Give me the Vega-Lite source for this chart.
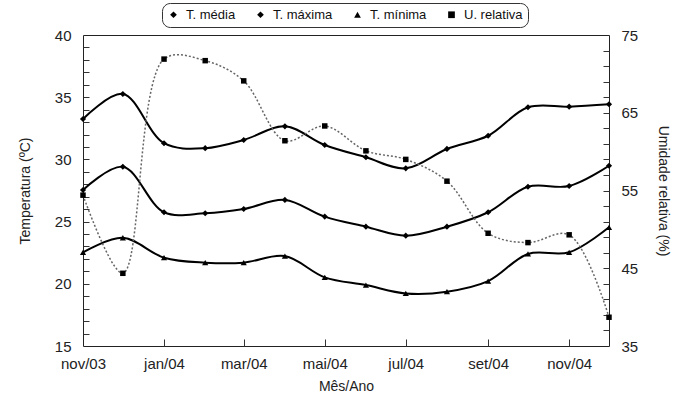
{
  "$schema": "https://vega.github.io/schema/vega-lite/v6.json",
  "width": 526,
  "height": 311,
  "autosize": "none",
  "padding": {"left": 83, "top": 35, "right": 67, "bottom": 55},
  "background": "white",
  "datasets": {
    "temp": [
      {"mes": "2003-11-01", "serie": "T. máxima", "valor": 33.25},
      {"mes": "2003-12-01", "serie": "T. máxima", "valor": 35.26},
      {"mes": "2004-01-01", "serie": "T. máxima", "valor": 31.3},
      {"mes": "2004-02-01", "serie": "T. máxima", "valor": 30.9},
      {"mes": "2004-03-01", "serie": "T. máxima", "valor": 31.56},
      {"mes": "2004-04-01", "serie": "T. máxima", "valor": 32.66},
      {"mes": "2004-05-01", "serie": "T. máxima", "valor": 31.16},
      {"mes": "2004-06-01", "serie": "T. máxima", "valor": 30.17},
      {"mes": "2004-07-01", "serie": "T. máxima", "valor": 29.28},
      {"mes": "2004-08-01", "serie": "T. máxima", "valor": 30.84},
      {"mes": "2004-09-01", "serie": "T. máxima", "valor": 31.9},
      {"mes": "2004-10-01", "serie": "T. máxima", "valor": 34.19},
      {"mes": "2004-11-01", "serie": "T. máxima", "valor": 34.24},
      {"mes": "2004-12-01", "serie": "T. máxima", "valor": 34.43},
      {"mes": "2003-11-01", "serie": "T. média", "valor": 27.54},
      {"mes": "2003-12-01", "serie": "T. média", "valor": 29.41},
      {"mes": "2004-01-01", "serie": "T. média", "valor": 25.75},
      {"mes": "2004-02-01", "serie": "T. média", "valor": 25.67},
      {"mes": "2004-03-01", "serie": "T. média", "valor": 26.01},
      {"mes": "2004-04-01", "serie": "T. média", "valor": 26.74},
      {"mes": "2004-05-01", "serie": "T. média", "valor": 25.4},
      {"mes": "2004-06-01", "serie": "T. média", "valor": 24.59},
      {"mes": "2004-07-01", "serie": "T. média", "valor": 23.87},
      {"mes": "2004-08-01", "serie": "T. média", "valor": 24.59},
      {"mes": "2004-09-01", "serie": "T. média", "valor": 25.75},
      {"mes": "2004-10-01", "serie": "T. média", "valor": 27.8},
      {"mes": "2004-11-01", "serie": "T. média", "valor": 27.86},
      {"mes": "2004-12-01", "serie": "T. média", "valor": 29.49},
      {"mes": "2003-11-01", "serie": "T. mínima", "valor": 22.53},
      {"mes": "2003-12-01", "serie": "T. mínima", "valor": 23.7},
      {"mes": "2004-01-01", "serie": "T. mínima", "valor": 22.1},
      {"mes": "2004-02-01", "serie": "T. mínima", "valor": 21.7},
      {"mes": "2004-03-01", "serie": "T. mínima", "valor": 21.7},
      {"mes": "2004-04-01", "serie": "T. mínima", "valor": 22.23},
      {"mes": "2004-05-01", "serie": "T. mínima", "valor": 20.52},
      {"mes": "2004-06-01", "serie": "T. mínima", "valor": 19.9},
      {"mes": "2004-07-01", "serie": "T. mínima", "valor": 19.23},
      {"mes": "2004-08-01", "serie": "T. mínima", "valor": 19.37},
      {"mes": "2004-09-01", "serie": "T. mínima", "valor": 20.22},
      {"mes": "2004-10-01", "serie": "T. mínima", "valor": 22.4},
      {"mes": "2004-11-01", "serie": "T. mínima", "valor": 22.53},
      {"mes": "2004-12-01", "serie": "T. mínima", "valor": 24.54}
    ],
    "umid": [
      {"mes": "2003-11-01", "serie": "U. relativa", "valor": 54.4},
      {"mes": "2003-12-01", "serie": "U. relativa", "valor": 44.35},
      {"mes": "2004-01-01", "serie": "U. relativa", "valor": 71.9},
      {"mes": "2004-02-01", "serie": "U. relativa", "valor": 71.7},
      {"mes": "2004-03-01", "serie": "U. relativa", "valor": 69.1},
      {"mes": "2004-04-01", "serie": "U. relativa", "valor": 61.4},
      {"mes": "2004-05-01", "serie": "U. relativa", "valor": 63.3},
      {"mes": "2004-06-01", "serie": "U. relativa", "valor": 60.1},
      {"mes": "2004-07-01", "serie": "U. relativa", "valor": 59.0},
      {"mes": "2004-08-01", "serie": "U. relativa", "valor": 56.2},
      {"mes": "2004-09-01", "serie": "U. relativa", "valor": 49.5},
      {"mes": "2004-10-01", "serie": "U. relativa", "valor": 48.3},
      {"mes": "2004-11-01", "serie": "U. relativa", "valor": 49.3},
      {"mes": "2004-12-01", "serie": "U. relativa", "valor": 38.7}
    ]
  },
  "config": {
    "view": {"stroke": "#222", "strokeWidth": 1},
    "axis": {
      "grid": false,
      "domain": false,
      "labelFont": "Liberation Sans",
      "titleFont": "Liberation Sans",
      "labelFontSize": 15,
      "titleFontSize": 14,
      "titleFontWeight": "normal",
      "labelColor": "#222",
      "titleColor": "#222",
      "tickColor": "#333",
      "labelFlush": false,
      "labelOverlap": false
    }
  },
  "layer": [
    {
      "data": {"name": "temp"},
      "layer": [
        {
          "mark": {"type": "line", "interpolate": "catmull-rom", "color": "black", "strokeWidth": 2},
          "encoding": {
            "x": {
              "field": "mes", "type": "temporal",
              "scale": {"type": "utc", "nice": false, "domain": [{"year": 2003, "month": 11, "date": 1, "utc": true}, {"year": 2004, "month": 12, "date": 1, "utc": true}]},
              "axis": {
                "orient": "bottom", "title": "Mês/Ano", "ticks": false, "labelPadding": 10, "titlePadding": 8,
                "values": [
                  {"year": 2003, "month": 11, "date": 1, "utc": true},
                  {"year": 2004, "month": 1, "date": 1, "utc": true},
                  {"year": 2004, "month": 3, "date": 1, "utc": true},
                  {"year": 2004, "month": 5, "date": 1, "utc": true},
                  {"year": 2004, "month": 7, "date": 1, "utc": true},
                  {"year": 2004, "month": 9, "date": 1, "utc": true},
                  {"year": 2004, "month": 11, "date": 1, "utc": true}
                ],
                "labelExpr": "['jan','fev','mar','abr','mai','jun','jul','ago','set','out','nov','dez'][utcmonth(datum.value)] + '/' + utcFormat(datum.value, '%y')"
              }
            },
            "y": {
              "field": "valor", "type": "quantitative",
              "scale": {"domain": [15, 40], "nice": false, "zero": false},
              "axis": {"orient": "left", "title": "Temperatura (ºC)", "values": [15, 20, 25, 30, 35, 40], "ticks": false, "labelPadding": 12, "titlePadding": 22}
            },
            "detail": {"field": "serie", "type": "nominal"}
          }
        },
        {
          "mark": {"type": "point", "filled": true, "color": "black", "opacity": 1, "size": 38},
          "encoding": {
            "x": {
              "field": "mes", "type": "temporal",
              "scale": {"type": "utc", "nice": false, "domain": [{"year": 2003, "month": 11, "date": 1, "utc": true}, {"year": 2004, "month": 12, "date": 1, "utc": true}]},
              "axis": {
                "orient": "bottom", "title": null, "labels": false, "tickSize": -7,
                "values": [
                  {"year": 2004, "month": 1, "date": 1, "utc": true},
                  {"year": 2004, "month": 3, "date": 1, "utc": true},
                  {"year": 2004, "month": 5, "date": 1, "utc": true},
                  {"year": 2004, "month": 7, "date": 1, "utc": true},
                  {"year": 2004, "month": 9, "date": 1, "utc": true},
                  {"year": 2004, "month": 11, "date": 1, "utc": true}
                ]
              }
            },
            "y": {
              "field": "valor", "type": "quantitative",
              "scale": {"domain": [15, 40], "nice": false, "zero": false},
              "axis": {"orient": "left", "title": null, "labels": false, "tickSize": -6,
                "values": [16, 17, 18, 19, 20, 21, 22, 23, 24, 25, 26, 27, 28, 29, 30, 31, 32, 33, 34, 35, 36, 37, 38, 39]}
            },
            "shape": {
              "field": "serie", "type": "nominal",
              "scale": {"domain": ["T. média", "T. máxima", "T. mínima", "U. relativa"], "range": ["diamond", "diamond", "triangle-up", "square"]},
              "legend": {
                "title": null, "orient": "none", "legendX": 79, "legendY": -32, "direction": "horizontal", "columns": 4,
                "strokeColor": "#333", "fillColor": "white", "cornerRadius": 8, "padding": 5,
                "labelFont": "Liberation Sans", "labelFontSize": 13, "labelColor": "#111",
                "symbolSize": 45, "symbolFillColor": "black", "symbolStrokeColor": "black", "symbolStrokeWidth": 0,
                "columnPadding": 18, "labelOffset": 6
              }
            }
          }
        }
      ],
      "resolve": {"axis": {"x": "independent", "y": "independent"}}
    },
    {
      "data": {"name": "umid"},
      "layer": [
        {
          "mark": {"type": "line", "interpolate": "catmull-rom", "color": "#666", "strokeWidth": 1.5, "strokeDash": [2, 2]},
          "encoding": {
            "x": {
              "field": "mes", "type": "temporal",
              "scale": {"type": "utc", "nice": false, "domain": [{"year": 2003, "month": 11, "date": 1, "utc": true}, {"year": 2004, "month": 12, "date": 1, "utc": true}]},
              "axis": {
                "orient": "bottom", "title": null, "labels": false, "tickSize": -4,
                "values": [
                  {"year": 2003, "month": 12, "date": 1, "utc": true},
                  {"year": 2004, "month": 2, "date": 1, "utc": true},
                  {"year": 2004, "month": 4, "date": 1, "utc": true},
                  {"year": 2004, "month": 6, "date": 1, "utc": true},
                  {"year": 2004, "month": 8, "date": 1, "utc": true},
                  {"year": 2004, "month": 10, "date": 1, "utc": true}
                ]
              }
            },
            "y": {
              "field": "valor", "type": "quantitative",
              "scale": {"domain": [35, 75], "nice": false, "zero": false},
              "axis": {"orient": "right", "title": "Umidade relativa (%)", "values": [35, 45, 55, 65, 75], "ticks": false, "labelPadding": 12, "titlePadding": 18}
            }
          }
        },
        {
          "mark": {"type": "point", "filled": true, "color": "black", "opacity": 1, "size": 30},
          "encoding": {
            "x": {
              "field": "mes", "type": "temporal",
              "scale": {"type": "utc", "nice": false, "domain": [{"year": 2003, "month": 11, "date": 1, "utc": true}, {"year": 2004, "month": 12, "date": 1, "utc": true}]},
              "axis": null
            },
            "y": {
              "field": "valor", "type": "quantitative",
              "scale": {"domain": [35, 75], "nice": false, "zero": false},
              "axis": {"orient": "right", "title": null, "labels": false, "tickSize": -6,
                "values": [37, 39, 41, 43, 45, 47, 49, 51, 53, 55, 57, 59, 61, 63, 65, 67, 69, 71, 73]}
            },
            "shape": {
              "field": "serie", "type": "nominal",
              "scale": {"domain": ["T. média", "T. máxima", "T. mínima", "U. relativa"], "range": ["diamond", "diamond", "triangle-up", "square"]}
            }
          }
        }
      ],
      "resolve": {"axis": {"y": "independent"}}
    }
  ],
  "resolve": {"scale": {"y": "independent"}, "axis": {"x": "independent"}}
}
